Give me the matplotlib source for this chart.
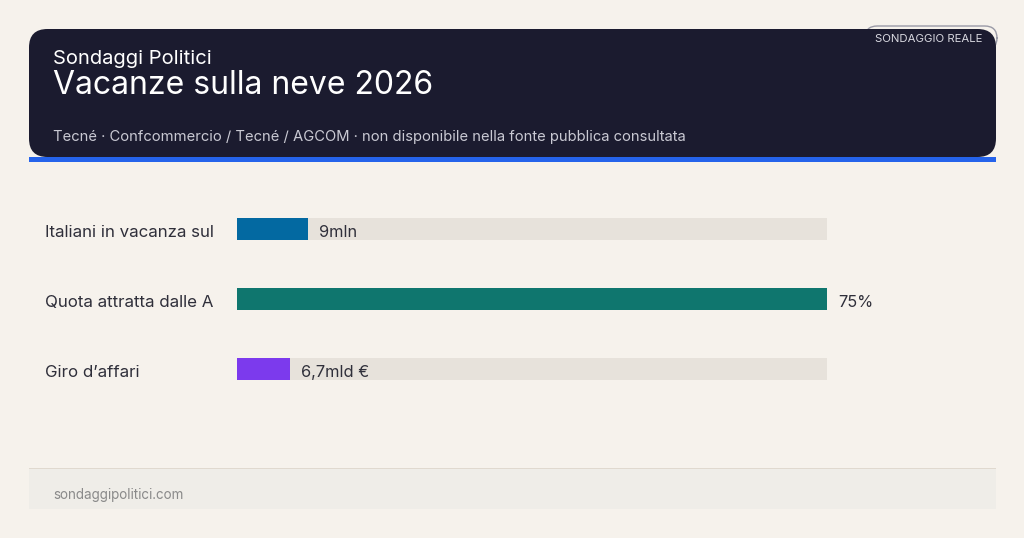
import matplotlib.pyplot as plt
from matplotlib.patches import FancyBboxPatch, Rectangle

plt.rcParams['font.family'] = ['Inter', 'DejaVu Sans']

# data
categories = ['Italiani in vacanza sul', 'Quota attratta dalle A', "Giro d\u2019affari"]
values = [9, 75, 6.7]
value_labels = ['9mln', '75%', '6,7mld \u20ac']
bar_colors = ['#0369a1', '#0f766e', '#7c3aed']
scale_max = 75

W, H = 1024, 538
fig = plt.figure(figsize=(W / 100, H / 100), dpi=100)
fig.patch.set_facecolor('#f6f2ec')


def fx(x):
    return x / W


def fy(y):
    return 1 - y / H


# badge sits behind the header, only its top/right edge peeks out
fig.patches.append(FancyBboxPatch((fx(865), fy(50)), fx(132), 24 / H,
                                  boxstyle='round,pad=0,rounding_size=0.012',
                                  mutation_aspect=W / H,
                                  transform=fig.transFigure, facecolor='none',
                                  edgecolor='#9a9aa6', linewidth=1, zorder=1))
# header
fig.patches.append(Rectangle((fx(29), fy(162)), fx(967), 5 / H, transform=fig.transFigure,
                             facecolor='#2563eb', edgecolor='none', zorder=2))
fig.patches.append(FancyBboxPatch((fx(29), fy(157)), fx(967), 128 / H,
                                  boxstyle='round,pad=0,rounding_size=0.018',
                                  mutation_aspect=W / H,
                                  transform=fig.transFigure, facecolor='#1b1b2f',
                                  edgecolor='none', zorder=3))
fig.text(fx(929), fy(38.5), 'SONDAGGIO REALE', color='#d8d8e0', fontsize=8.2,
         ha='center', va='center', zorder=5)
fig.text(fx(53), fy(58.5), 'Sondaggi Politici', color='white', fontsize=14.5, va='center', zorder=5)
fig.text(fx(53), fy(85), 'Vacanze sulla neve 2026', color='white', fontsize=23, va='center', zorder=5)
fig.text(fx(53), fy(137), 'Tecn\u00e9 \u00b7 Confcommercio / Tecn\u00e9 / AGCOM \u00b7 non disponibile nella fonte pubblica consultata',
         color='#c9c9d3', fontsize=10.65, va='center', zorder=5)

# footer
fig.patches.append(Rectangle((fx(29), fy(509)), fx(967), 41 / H, transform=fig.transFigure,
                             facecolor='#efede8', edgecolor='none'))
fig.patches.append(Rectangle((fx(29), fy(469)), fx(967), 1.5 / H, transform=fig.transFigure,
                             facecolor='#e0d9cf', edgecolor='none'))
fig.text(fx(53), fy(495), 'sondaggipolitici.com', color='#8a8a8a', fontsize=9.7, va='center')

# bars
ax = fig.add_axes([fx(237), fy(404), fx(590), 210 / H])
ax.set_facecolor('none')
ypos = list(range(len(categories)))
ax.barh(ypos, [scale_max] * len(values), height=0.314, color='#e7e2db', edgecolor='none')
ax.barh(ypos, values, height=0.314, color=bar_colors, edgecolor='none')
for y, v, lab, cat in zip(ypos, values, value_labels, categories):
    ax.annotate(lab, (v, y), xytext=(11, -3.5), textcoords='offset pixels',
                ha='left', va='center', fontsize=11.8, color='#2f2f3a')
    ax.annotate(cat, (0, y), xytext=(-192, -3.5), textcoords='offset pixels',
                ha='left', va='center', fontsize=12.2, color='#2f2f3a')
ax.set_xlim(0, scale_max)
ax.set_ylim(2.5, -0.5)
ax.axis('off')

fig.savefig('out.png', dpi=100, facecolor=fig.get_facecolor())
